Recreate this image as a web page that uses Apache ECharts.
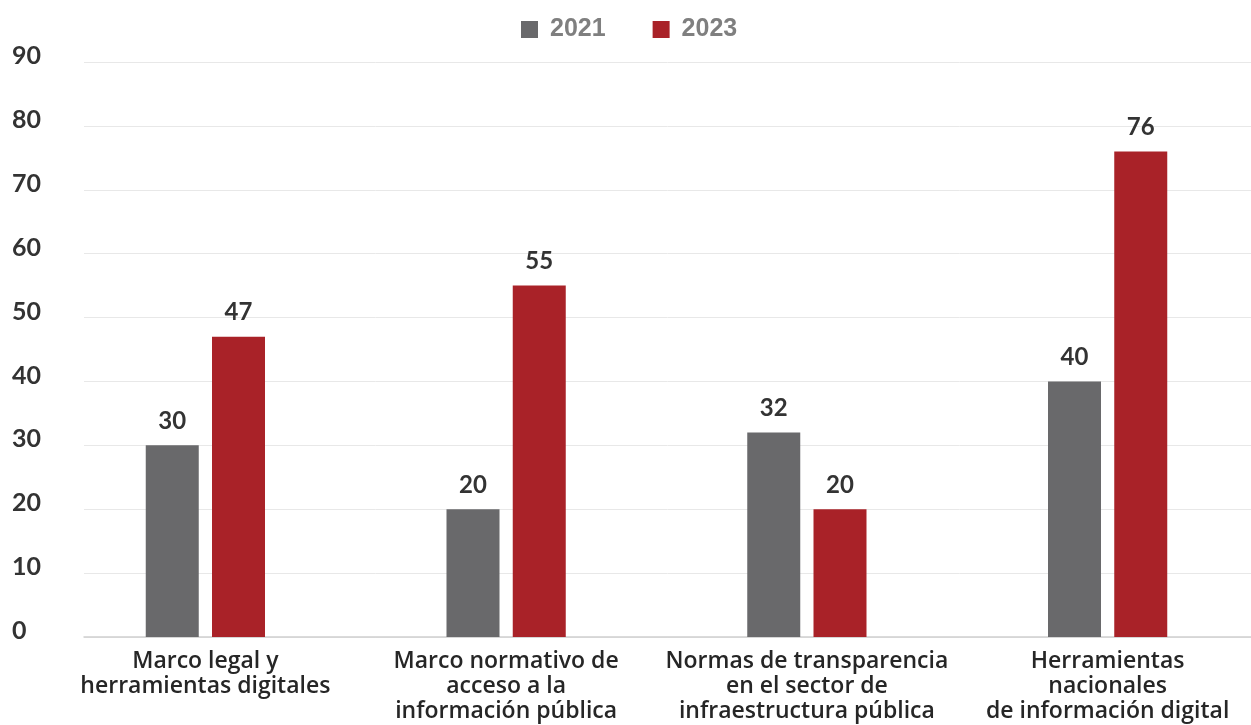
<!DOCTYPE html>
<html>
<head>
<meta charset="utf-8">
<script src="https://cdn.jsdelivr.net/npm/echarts@6/dist/echarts.min.js"></script>
<style>
  html, body { margin: 0; padding: 0; background: #fff; overflow: hidden; }
  #chart { width: 1262px; height: 725px; }
</style>
</head>
<body>
<div id="chart"></div>
<script>
var categories = [
  "Marco legal y\nherramientas digitales",
  "Marco normativo de\nacceso a la\ninformación pública",
  "Normas de transparencia\nen el sector de\ninfraestructura pública",
  "Herramientas\nnacionales\nde información digital"
];
var values2021 = [30, 20, 32, 40];
var values2023 = [47, 55, 20, 76];
var yMin = 0;
var yMax = 90;
var yStep = 10;

var chartDom = document.getElementById("chart");
var chart = echarts.init(chartDom);

var labelStyle = {
  show: true,
  position: "top",
  distance: 12,
  color: "#333",
  fontFamily: "Lato",
  fontWeight: "bold",
  fontSize: 24
};

var option = {
  animation: false,
  backgroundColor: "#fff",
  legend: {
    top: 17,
    left: 521,
    padding: 0,
    itemWidth: 17,
    itemHeight: 17,
    itemGap: 47,
    icon: "rect",
    textStyle: {
      color: "#7f7f7f",
      fontFamily: "Liberation Sans",
      fontWeight: "bold",
      fontSize: 25,
      padding: [0, 0, 0, 7]
    },
    data: ["2021", "2023"]
  },
  grid: [
    // grid 0: y axis labels and gridlines (page is 1251 wide, div is wider)
    { left: 84, right: 11, top: 62, bottom: 88 },
    // grid 1: the bars and category labels
    { left: 55, width: 1203, top: 62, bottom: 88 }
  ],
  xAxis: [
    {
      gridIndex: 0,
      type: "category",
      data: categories,
      axisLine: { show: true, lineStyle: { color: "#d0d0d0", width: 1.5 } },
      axisTick: { show: false },
      axisLabel: { show: false }
    },
    {
      gridIndex: 1,
      type: "category",
      data: categories,
      axisLine: { show: false },
      axisTick: { show: false },
      axisLabel: {
        margin: 12,
        interval: 0,
        color: "#262626",
        fontFamily: "Open Sans",
        fontWeight: 600,
        fontSize: 23,
        lineHeight: 25
      }
    }
  ],
  yAxis: [
    {
      gridIndex: 0,
      type: "value",
      min: yMin,
      max: yMax,
      interval: yStep,
      axisLine: { show: false },
      axisTick: { show: false },
      splitLine: { lineStyle: { color: "#e8e8e8", width: 1 } },
      axisLabel: {
        align: "left",
        verticalAlign: "bottom",
        lineHeight: 12,
        margin: 72,
        color: "#333",
        fontFamily: "Lato",
        fontWeight: "bold",
        fontSize: 25
      }
    },
    {
      gridIndex: 1,
      type: "value",
      min: yMin,
      max: yMax,
      interval: yStep,
      show: false,
      splitLine: { show: false }
    }
  ],
  series: [
    {
      name: "2021",
      type: "bar",
      xAxisIndex: 1,
      yAxisIndex: 1,
      data: values2021,
      barWidth: 53,
      barGap: "25%",
      itemStyle: { color: "#69696b" },
      label: labelStyle
    },
    {
      name: "2023",
      type: "bar",
      xAxisIndex: 1,
      yAxisIndex: 1,
      data: values2023,
      barWidth: 53,
      barGap: "25%",
      itemStyle: { color: "#a92228" },
      label: labelStyle
    }
  ]
};

chart.setOption(option);
</script>
</body>
</html>
